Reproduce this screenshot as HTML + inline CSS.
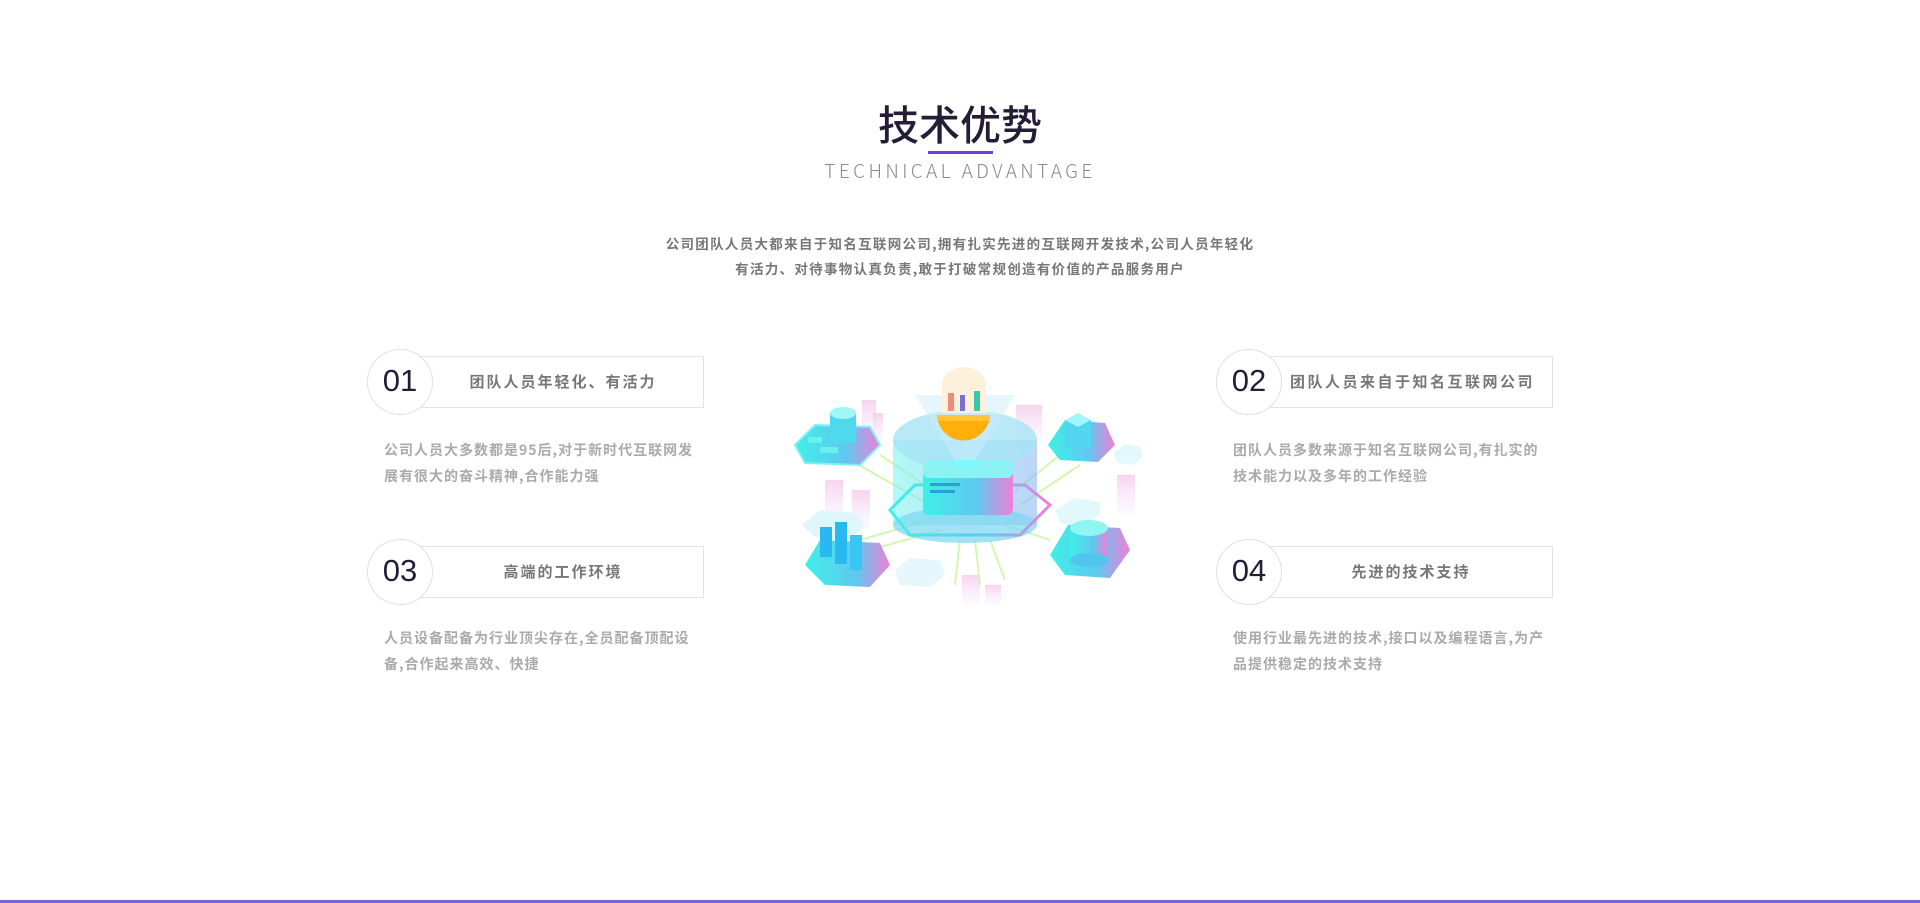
<!DOCTYPE html>
<html><head><meta charset="utf-8">
<style>
*{margin:0;padding:0;box-sizing:border-box}
body{width:1920px;height:903px;background:#fff;position:relative;overflow:hidden;font-family:"Liberation Sans","Noto Sans CJK SC",sans-serif}
.abs{position:absolute}
.title{left:0;width:1920px;top:96px;text-align:center;font-size:41px;line-height:52px;color:#241d36;font-weight:500;font-family:"Noto Sans CJK SC",sans-serif}
.bar{left:928px;top:151px;width:65px;height:3px;background:#6e3fe0}
.en{left:0;width:1920px;top:158px;text-align:center;font-size:19px;line-height:26px;letter-spacing:3.4px;color:#8a8a8a;font-family:"Noto Sans CJK SC",sans-serif;font-weight:300}
.p{left:0;width:1920px;text-align:center;font-size:13.5px;line-height:25px;color:#777;font-weight:bold;letter-spacing:1.3px;font-family:"Noto Sans CJK SC",sans-serif;white-space:nowrap}
.box{height:52px;border:1.5px solid #e3e3e3;background:#fff}
.circ{width:66px;height:66px;border-radius:50%;border:1.5px solid #e0e0e0;background:#fff;text-align:center;line-height:62px;font-size:31px;color:#231d38;font-family:"Liberation Sans",sans-serif}
.bt{font-size:15px;line-height:52px;color:#777;font-weight:bold;text-align:center;letter-spacing:2px;font-family:"Noto Sans CJK SC",sans-serif;white-space:nowrap}
.d{font-size:14px;line-height:26px;color:#aaa;font-weight:bold;letter-spacing:1px;font-family:"Noto Sans CJK SC",sans-serif}
.bottom{left:0;top:900px;width:1920px;height:3px;background:#7d5fe6}
</style></head><body>
<div class="abs title">技术优势</div>
<div class="abs bar"></div>
<div class="abs en">TECHNICAL ADVANTAGE</div>
<div class="abs p" style="top:231px">公司团队人员大都来自于知名互联网公司,拥有扎实先进的互联网开发技术,公司人员年轻化</div>
<div class="abs p" style="top:256px">有活力、对待事物认真负责,敢于打破常规创造有价值的产品服务用户</div>

<div class="abs box" style="left:402px;top:356px;width:302px"></div>
<div class="abs bt" style="left:428px;top:356px;width:270px">团队人员年轻化、有活力</div>
<div class="abs circ" style="left:367px;top:349px">01</div>
<div class="abs d" style="left:384px;top:437px;width:320px">公司人员大多数都是95后,对于新时代互联网发<br>展有很大的奋斗精神,合作能力强</div>

<div class="abs box" style="left:402px;top:546px;width:302px"></div>
<div class="abs bt" style="left:428px;top:546px;width:270px">高端的工作环境</div>
<div class="abs circ" style="left:367px;top:539px">03</div>
<div class="abs d" style="left:384px;top:625px;width:320px">人员设备配备为行业顶尖存在,全员配备顶配设<br>备,合作起来高效、快捷</div>

<div class="abs box" style="left:1250px;top:356px;width:303px"></div>
<div class="abs bt" style="left:1290px;top:356px;width:245px;letter-spacing:2.5px;text-align:left">团队人员来自于知名互联网公司</div>
<div class="abs circ" style="left:1216px;top:349px">02</div>
<div class="abs d" style="left:1233px;top:437px;width:330px">团队人员多数来源于知名互联网公司,有扎实的<br>技术能力以及多年的工作经验</div>

<div class="abs box" style="left:1250px;top:546px;width:303px"></div>
<div class="abs bt" style="left:1276px;top:546px;width:270px">先进的技术支持</div>
<div class="abs circ" style="left:1216px;top:539px">04</div>
<div class="abs d" style="left:1233px;top:625px;width:330px">使用行业最先进的技术,接口以及编程语言,为产<br>品提供稳定的技术支持</div>

<svg class="abs" style="left:780px;top:365px" width="370" height="250" viewBox="0 0 370 250">
<defs>
<linearGradient id="g1" x1="0" x2="1"><stop offset="0" stop-color="#3ef0e6"/><stop offset="0.6" stop-color="#5fc8f0"/><stop offset="1" stop-color="#f07fd8"/></linearGradient>
<linearGradient id="g2" x1="0" x2="1"><stop offset="0" stop-color="#7ff5f0" stop-opacity=".6"/><stop offset="1" stop-color="#8fb8f5" stop-opacity=".6"/></linearGradient>
<linearGradient id="g3" x1="0" y1="0" x2="0" y2="1"><stop offset="0" stop-color="#f7c8ea" stop-opacity=".8"/><stop offset="1" stop-color="#f3f0ff" stop-opacity=".3"/></linearGradient>
</defs>
<rect x="82" y="35" width="14" height="40" fill="url(#g3)"/><rect x="93" y="48" width="10" height="30" fill="url(#g3)"/>
<rect x="236" y="40" width="26" height="40" fill="url(#g3)"/><rect x="337" y="110" width="18" height="40" fill="url(#g3)"/>
<rect x="45" y="115" width="18" height="45" fill="url(#g3)"/><rect x="72" y="125" width="18" height="40" fill="url(#g3)"/>
<rect x="182" y="210" width="18" height="30" fill="url(#g3)"/><rect x="205" y="220" width="16" height="20" fill="url(#g3)"/>
<g stroke="#c8f5a0" stroke-width="2" fill="none" opacity=".8">
<path d="M70 95 L150 140 M100 90 L160 130 M80 175 L150 155 M90 185 L160 165 M280 90 L230 130 M300 100 L240 140 M270 175 L225 160 M180 175 L175 220 M195 175 L200 220 M210 175 L225 215"/>
</g>
<polygon points="22,160 40,145 75,148 85,160 70,175 35,172" fill="#dff7fb"/>
<polygon points="115,205 130,193 160,195 165,210 150,222 120,220" fill="#e6f7fb"/>
<polygon points="333,88 345,79 360,82 363,92 352,100 338,98" fill="#e3f8fb"/>
<polygon points="275,145 295,133 320,137 320,150 300,162 280,158" fill="#e3f8fb"/>
<rect x="113" y="75" width="144" height="85" fill="url(#g2)"/>
<ellipse cx="185" cy="75" rx="72" ry="30" fill="#a8e3f5" opacity=".8"/>
<ellipse cx="185" cy="160" rx="72" ry="18" fill="#7ad6f0" opacity=".7"/>
<polygon points="110,145 135,120 245,120 270,140 240,170 130,170" fill="none" stroke="url(#g1)" stroke-width="3"/>
<rect x="143" y="95" width="90" height="55" rx="6" fill="url(#g1)"/>
<rect x="143" y="95" width="90" height="18" rx="6" fill="#8cf3f5"/>
<ellipse cx="187" cy="98" rx="14" ry="6" fill="#7ff8ff"/>
<rect x="150" y="118" width="30" height="3" fill="#2a9ed8"/><rect x="150" y="125" width="25" height="3" fill="#2a9ed8"/>
<polygon points="135,30 235,30 195,95 175,95" fill="#cdeefc" opacity=".5"/>
<path d="M157 53 L210 53 A27 28 0 0 1 157 53 Z" fill="#ffae0a"/>
<rect x="157" y="50" width="53" height="6" fill="#ffc43a"/>
<path d="M162 48 L162 20 A22 18 0 0 1 206 20 L206 48 Z" fill="#fdf1dc"/>
<rect x="168" y="28" width="6" height="18" fill="#f28a7b"/><rect x="180" y="30" width="5" height="16" fill="#7a6fd8"/><rect x="194" y="26" width="6" height="20" fill="#35c9a5"/>
<polygon points="15,80 35,60 90,62 100,80 80,100 25,98" fill="url(#g1)" stroke="#7ff0f5" stroke-width="2"/>
<rect x="50" y="48" width="26" height="30" fill="#4fd9ec"/><ellipse cx="63" cy="48" rx="13" ry="6" fill="#9ff7f8"/>
<rect x="28" y="72" width="14" height="6" fill="#6af0f0"/><rect x="40" y="82" width="18" height="6" fill="#6af0f0"/>
<polygon points="268,80 285,55 325,58 335,80 318,97 280,95" fill="url(#g1)"/>
<rect x="285" y="55" width="26" height="28" fill="#52d6f0"/><polygon points="285,55 298,48 311,55 298,62" fill="#a0f6fa"/>
<polygon points="25,200 40,175 100,178 110,200 90,222 45,220" fill="url(#g1)"/>
<rect x="40" y="162" width="12" height="30" fill="#2ab8f0"/><rect x="55" y="157" width="12" height="42" fill="#2ab8f0"/><rect x="70" y="170" width="12" height="35" fill="#38c6f2"/>
<polygon points="270,190 288,160 340,163 350,185 330,213 285,210" fill="url(#g1)"/>
<rect x="290" y="163" width="38" height="32" fill="url(#g1)"/><ellipse cx="309" cy="163" rx="19" ry="8" fill="#8ff5f0"/><ellipse cx="309" cy="195" rx="19" ry="7" fill="#4fc6ee"/>
</svg>

<div class="abs bottom"></div>
</body></html>
